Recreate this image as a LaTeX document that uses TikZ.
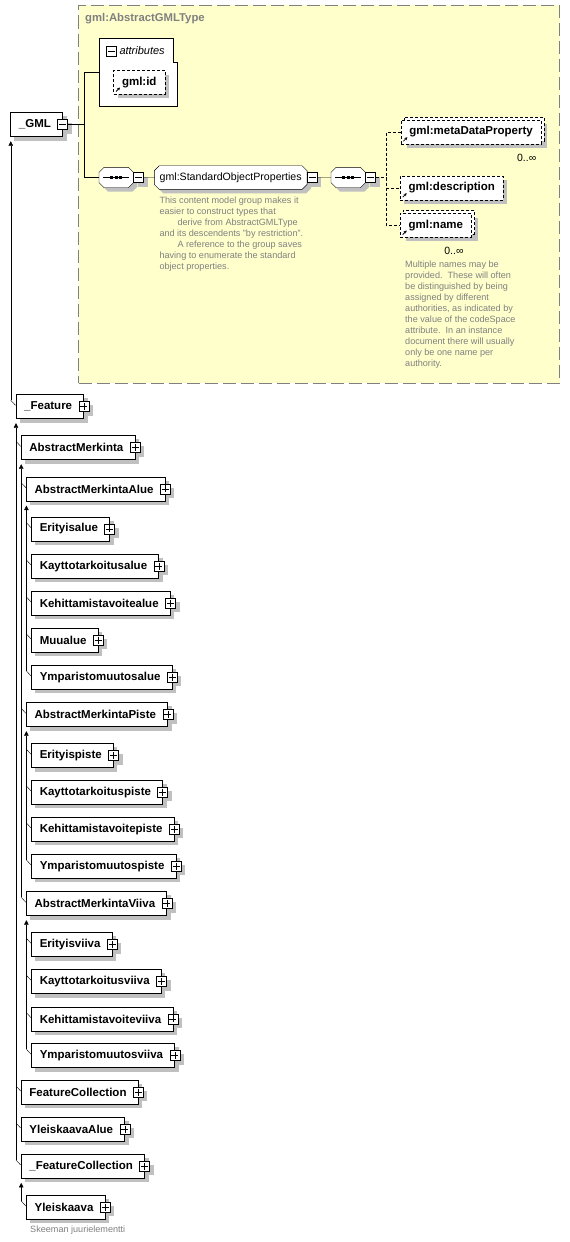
\documentclass[tikz,border=0pt]{standalone}
\usepackage{fontspec}
\setmainfont{Liberation Sans}
\usepackage{xcolor}
\usepackage{tikz}
\usetikzlibrary{calc,shadows,arrows.meta}
\definecolor{notebg}{HTML}{FFFFCC}
\definecolor{shadowgray}{HTML}{C0C0C0}
\definecolor{docgray}{HTML}{808080}
\pgfdeclarelayer{bg}
\pgfdeclarelayer{shade}
\pgfsetlayers{bg,shade,main}

\newcommand{\xelem}[4][xplus]{%
  \node[elem] (#2) at (#3) {#4};
  \node[#1] (#2-x) at (#2.east) {};
  \begin{pgfonlayer}{shade}
    \fill[shadowgray] ($(#2.north west)+(4,4)$) rectangle ($(#2.south east)+(4,4)$);
    \fill[shadowgray] ($(#2-x.north west)+(4,4)$) rectangle ($(#2-x.south east)+(4,4)$);
  \end{pgfonlayer}}
\newcommand{\xocto}[2]{($(#1.north west)+(#2)+(5,0)$) -- ($(#1.north east)+(#2)+(-5,0)$) -- ($(#1.north east)+(#2)+(0,5)$)
  -- ($(#1.south east)+(#2)+(0,-5)$) -- ($(#1.south east)+(#2)+(-5,0)$) -- ($(#1.south west)+(#2)+(5,0)$)
  -- ($(#1.south west)+(#2)+(0,-5)$) -- ($(#1.north west)+(#2)+(0,5)$) -- cycle}
\newcommand{\xgroupshape}[1]{%
  \begin{pgfonlayer}{shade}
    \fill[shadowgray] \xocto{#1}{4,4};
    \draw[fill=white] \xocto{#1}{0,0};
  \end{pgfonlayer}
  \node[xminus,xshadow,anchor=west] (#1-x) at (#1.east) {};}
\newcommand{\xseq}[2]{%
  \node[seqbox] (#1) at (#2) {};
  \xgroupshape{#1}
  \draw ($(#1.west)+(4,0)$) -- ($(#1.east)+(-4,0)$);
  \foreach \dx in {-4.5,0,4.5} \fill ($(#1.center)+(\dx,0)$) +(-1.5,-1.5) rectangle +(1.5,1.5);}
\newcommand{\xtrunk}[2]{\draw[{Triangle[length=4.5pt,width=4.5pt]}-] ($(#1.south west)+(0.5,4.5)$) -- ($(#1.west |- #2.north)+(0.5,6)$);}
\newcommand{\xlink}[2]{\draw (#1.west |- #2.north) ++(0.5,6) -- ($(#2.north west)+(0,11)$);}

\begin{document}
\begin{tikzpicture}[x=1pt,y=-1pt,line width=1pt,
    elem/.style={draw,fill=white,anchor=north west,minimum height=24,inner xsep=8.5,inner ysep=0,
      font=\fontsize{11.5}{13}\selectfont\bfseries,execute at end node=\hspace*{3pt}},
    refelem/.style={draw,dash pattern=on 3pt off 2pt,fill=white,anchor=north west,minimum height=23.5,
      inner xsep=8.5,inner ysep=0,font=\fontsize{11.5}{13}\selectfont\bfseries,
      path picture={\draw[solid,line width=0.8pt,-{Stealth[length=3pt,width=3pt]}]
        ([shift={(2.5pt,2.5pt)}]path picture bounding box.south west) -- ++(4pt,4pt);}},
    xshadow/.style={general shadow={fill=shadowgray,shadow xshift=4pt,shadow yshift=-4pt}},
    multi/.style={general shadow={fill=shadowgray,shadow xshift=6pt,shadow yshift=-4pt},
      general shadow={draw,fill=white,dash pattern=on 3pt off 2pt,shadow xshift=3pt,shadow yshift=3pt}},
    xplus/.style={draw,fill=white,minimum size=10,inner sep=0,
      path picture={\draw ([xshift=1.5pt]path picture bounding box.west) -- ([xshift=-1.5pt]path picture bounding box.east);
        \draw ([yshift=-1.5pt]path picture bounding box.north) -- ([yshift=1.5pt]path picture bounding box.south);}},
    xminus/.style={draw,fill=white,minimum size=10,inner sep=0,
      path picture={\draw ([xshift=1.5pt]path picture bounding box.west) -- ([xshift=-1.5pt]path picture bounding box.east);}},
    seqbox/.style={anchor=north west,minimum width=34,minimum height=20,inner sep=0},
    group/.style={anchor=north west,minimum width=152.4,minimum height=23.3,inner sep=0,
      font=\fontsize{10.6}{12}\selectfont},
    region/.style={draw=docgray,fill=notebg,dash pattern=on 13pt off 5pt,anchor=north west,
      minimum width=481,minimum height=377.7,inner sep=0},
    docnote/.style={anchor=north west,align=left,inner sep=0,text=docgray,font=\fontsize{9.1}{11}\selectfont},
    occurs/.style={anchor=east,inner sep=0,font=\fontsize{10.5}{12}\selectfont},
    dconn/.style={dash pattern=on 3pt off 2pt}]
  \useasboundingbox (0,0) rectangle (570,1242);
  \begin{pgfonlayer}{bg}
    \fill[white] (0,0) rectangle (570,1242);
    \node[region] (agml) at (78.3,5) {};
  \end{pgfonlayer}
  \node[anchor=west,inner sep=0,text=docgray,font=\fontsize{11.3}{13}\selectfont\bfseries] (agmltitle) at (85,19) {gml:AbstractGMLType};

  \node[anchor=north west,minimum width=77.4,minimum height=67,inner sep=0] (attr) at (99.3,38.3) {};
  \draw[fill=white] (attr.north west) -- ($(attr.north east)+(-4.4,0)$) -- ++(0,23.4) -| (attr.south east) -- (attr.south west) -- cycle;
  \node[xminus] (attr-x) at (111.5,50.7) {};
  \node[anchor=west,inner sep=0,font=\fontsize{11}{13}\selectfont\itshape] (attrlabel) at (119.3,50.5) {attributes};
  \node[refelem,xshadow] (gmlid) at (113.3,70.3) {gml:id};

  \xseq{seq1}{99,167.3}
  \node[group] (sop) at (154.3,165.7) {gml:StandardObjectProperties};
  \xgroupshape{sop}
  \xseq{seq2}{331,167.3}

  \node[refelem,multi] (meta) at (400.7,120) {gml:metaDataProperty};
  \node[occurs] (metaocc) at ($(meta.south east)+(-5,14)$) {0..∞};
  \node[refelem,xshadow] (desc) at (400,176) {gml:description};
  \node[refelem,multi] (gname) at (400,213.3) {gml:name};
  \node[occurs] (gnameocc) at ($(gname.south east)+(-8,13.5)$) {0..∞};

  \node[docnote] (sopdoc) at (159.3,196.5) {This content model group makes it\\easier to construct types that\\\hspace*{18pt}derive from AbstractGMLType\\and its descendents "by restriction".\\\hspace*{18pt}A reference to the group saves\\having to enumerate the standard\\object properties.};
  \node[docnote] (gnamedoc) at (405,260.5) {Multiple names may be\\provided.\ \ These will often\\be distinguished by being\\assigned by different\\authorities, as indicated by\\the value of the codeSpace\\attribute.\ \ In an instance\\document there will usually\\only be one name per\\authority.};

  \xelem[xminus]{gml}{10.3,112.3}{\_GML}
  \xelem{feat}{15.5,394.3}{\_Feature}
  \xelem{am}{20.7,435.3}{AbstractMerkinta}
  \xelem{ama}{25.9,476.7}{AbstractMerkintaAlue}
  \xelem{erityisalue}{31.1,516.7}{Erityisalue}
  \xelem{kayttoalue}{31.1,554}{Kayttotarkoitusalue}
  \xelem{kehalue}{31.1,591}{Kehittamistavoitealue}
  \xelem{muualue}{31.1,628}{Muualue}
  \xelem{ympalue}{31.1,665}{Ymparistomuutosalue}
  \xelem{amp}{25.9,702.3}{AbstractMerkintaPiste}
  \xelem{erityispiste}{31.1,743.3}{Erityispiste}
  \xelem{kayttopiste}{31.1,780}{Kayttotarkoituspiste}
  \xelem{kehpiste}{31.1,817}{Kehittamistavoitepiste}
  \xelem{ymppiste}{31.1,854}{Ymparistomuutospiste}
  \xelem{amv}{25.9,891.3}{AbstractMerkintaViiva}
  \xelem{erityisviiva}{31.1,932.3}{Erityisviiva}
  \xelem{kayttoviiva}{31.1,969.3}{Kayttotarkoitusviiva}
  \xelem{kehviiva}{31.1,1006.7}{Kehittamistavoiteviiva}
  \xelem{ympviiva}{31.1,1043.3}{Ymparistomuutosviiva}
  \xelem{fc}{20.7,1080}{FeatureCollection}
  \xelem{yalue}{20.7,1117}{YleiskaavaAlue}
  \xelem{ufc}{20.7,1154}{\_FeatureCollection}
  \xelem{yleiskaava}{25.9,1195}{Yleiskaava}
  \node[docnote,anchor=west] (rootnote) at (30,1230.5) {Skeeman juurielementti};

  \draw (gml-x.east) -- ++(16,0) coordinate (gmlsplit);
  \draw (attr.west) -| (gmlsplit) |- (seq1.west);
  \draw (seq1-x.east) -- (sop.west);
  \draw (sop-x.east) -- (seq2.west);
  \draw[dconn] (seq2-x.east) -- ++(10.5,0) coordinate (seqsplit);
  \draw[dconn] (meta.west) -| (seqsplit) |- (gname.west);
  \draw[dconn] (seqsplit |- desc.west) -- (desc.west);

  \xtrunk{gml}{feat}
  \xlink{gml}{feat}
  \xtrunk{feat}{ufc}
  \xlink{feat}{am}
  \xlink{feat}{fc}
  \xlink{feat}{yalue}
  \xlink{feat}{ufc}
  \xtrunk{am}{amv}
  \xlink{am}{ama}
  \xlink{am}{amp}
  \xlink{am}{amv}
  \xtrunk{ama}{ympalue}
  \xlink{ama}{erityisalue}
  \xlink{ama}{kayttoalue}
  \xlink{ama}{kehalue}
  \xlink{ama}{muualue}
  \xlink{ama}{ympalue}
  \xtrunk{amp}{ymppiste}
  \xlink{amp}{erityispiste}
  \xlink{amp}{kayttopiste}
  \xlink{amp}{kehpiste}
  \xlink{amp}{ymppiste}
  \xtrunk{amv}{ympviiva}
  \xlink{amv}{erityisviiva}
  \xlink{amv}{kayttoviiva}
  \xlink{amv}{kehviiva}
  \xlink{amv}{ympviiva}
  \xtrunk{ufc}{yleiskaava}
  \xlink{ufc}{yleiskaava}
\end{tikzpicture}
\end{document}
